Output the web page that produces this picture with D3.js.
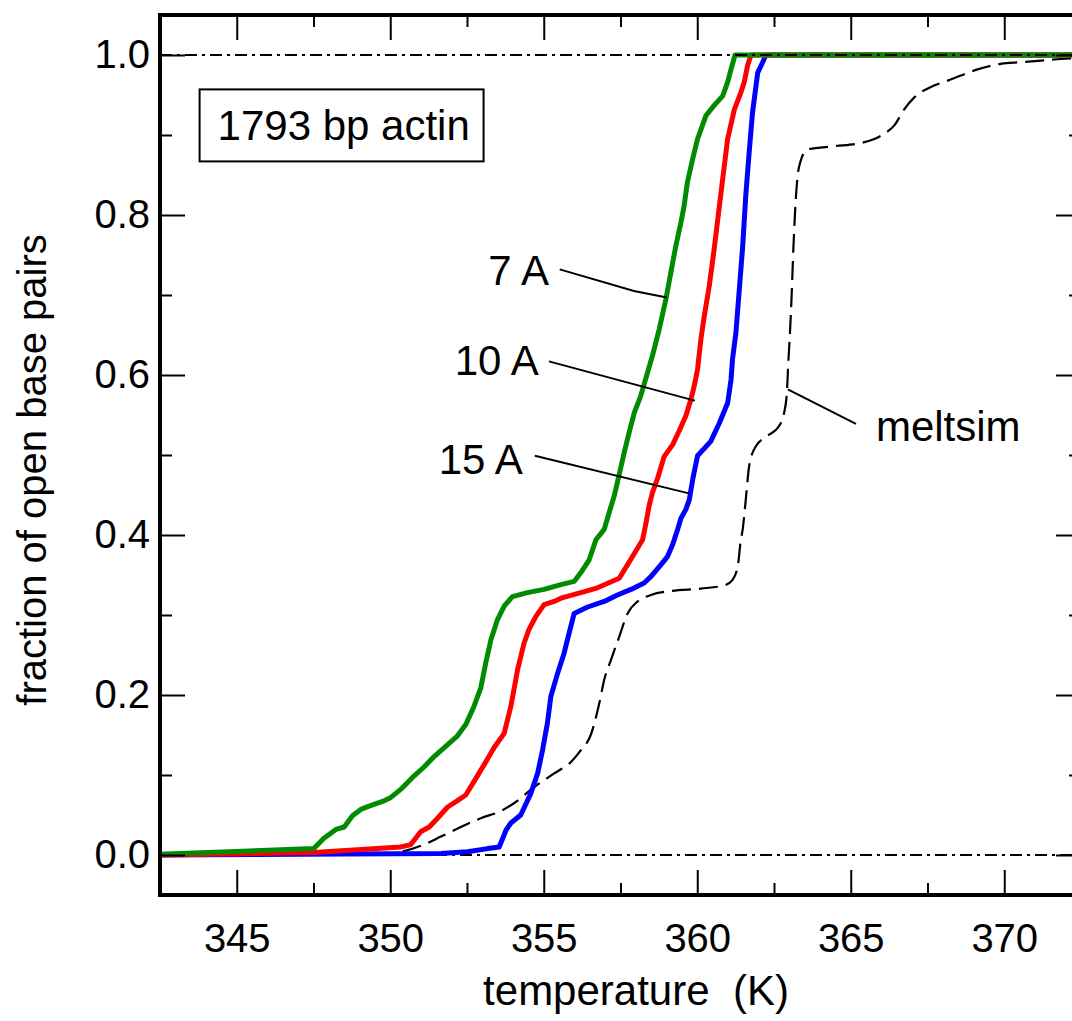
<!DOCTYPE html>
<html>
<head>
<meta charset="utf-8">
<script src="https://cdn.jsdelivr.net/npm/d3@7"></script>
<style>
  html, body { margin: 0; padding: 0; background: #ffffff; }
  svg { display: block; }
  text { font-family: "Liberation Sans", Arial, Helvetica, sans-serif; fill: #000; }
</style>
</head>
<body>
<svg id="chart" width="1072" height="1021"></svg>
<script>
// ---------------- data (temperature K, fraction of open base pairs) ----------------
const green7A = [
  [342.5,0.001],[347.51,0.008],[347.84,0.021],[348.23,0.032],[348.50,0.035],[348.77,0.049],
  [349.04,0.057],[349.31,0.061],[349.75,0.067],[350.02,0.072],[350.34,0.082],[350.78,0.099],
  [351.10,0.110],[351.43,0.123],[351.87,0.138],[352.19,0.149],[352.46,0.163],[352.73,0.186],
  [352.95,0.209],[353.11,0.240],[353.28,0.269],[353.49,0.294],[353.71,0.311],[353.98,0.323],
  [354.47,0.328],[355.01,0.332],[355.56,0.338],[355.99,0.342],[356.21,0.353],[356.48,0.369],
  [356.70,0.394],[356.97,0.407],[357.13,0.428],[357.29,0.448],[357.46,0.476],[357.62,0.503],
  [357.78,0.528],[357.95,0.553],[358.16,0.574],[358.38,0.603],[358.54,0.624],[358.76,0.657],
  [358.98,0.695],[359.14,0.728],[359.30,0.761],[359.47,0.791],[359.57,0.811],[359.68,0.841],
  [359.85,0.870],[360.01,0.895],[360.28,0.924],[360.55,0.937],[360.83,0.949],[360.99,0.966],
  [361.10,0.982],[361.23,1.000],[372.5,1.000]
];
const red10A = [
  [342.5,0.000],[347.51,0.003],[350.34,0.010],[350.67,0.013],[350.99,0.029],[351.27,0.035],
  [351.54,0.046],[351.87,0.060],[352.19,0.068],[352.46,0.075],[352.73,0.092],[353.06,0.113],
  [353.38,0.134],[353.71,0.152],[353.93,0.186],[354.15,0.232],[354.36,0.265],[354.52,0.282],
  [354.74,0.298],[355.01,0.313],[355.34,0.317],[355.56,0.321],[356.21,0.328],[356.75,0.334],
  [357.46,0.346],[357.73,0.363],[358.00,0.380],[358.22,0.394],[358.33,0.415],[358.43,0.436],
  [358.54,0.453],[358.71,0.471],[358.92,0.498],[359.20,0.513],[359.41,0.530],[359.63,0.549],
  [359.79,0.569],[359.90,0.586],[360.01,0.607],[360.12,0.645],[360.23,0.674],[360.39,0.711],
  [360.55,0.757],[360.72,0.811],[360.88,0.861],[360.99,0.895],[361.21,0.932],[361.42,0.953],
  [361.53,0.966],[361.64,0.987],[361.75,1.000],[372.5,1.000]
];
const blue15A = [
  [342.5,0.000],[351.65,0.002],[352.52,0.004],[353.17,0.008],[353.55,0.010],[353.77,0.031],
  [353.93,0.040],[354.25,0.050],[354.58,0.077],[354.80,0.102],[354.96,0.131],[355.12,0.165],
  [355.23,0.198],[355.45,0.227],[355.66,0.252],[355.77,0.269],[355.99,0.302],[356.43,0.310],
  [356.97,0.317],[357.40,0.325],[357.84,0.332],[358.27,0.340],[358.49,0.348],[358.82,0.363],
  [359.03,0.373],[359.20,0.388],[359.36,0.407],[359.47,0.421],[359.63,0.432],[359.74,0.444],
  [359.85,0.469],[360.01,0.499],[360.44,0.517],[360.72,0.540],[360.99,0.565],[361.10,0.594],
  [361.15,0.620],[361.26,0.653],[361.37,0.707],[361.48,0.761],[361.58,0.824],[361.69,0.878],
  [361.80,0.928],[361.97,0.978],[362.13,0.991],[362.24,1.000],[372.5,1.000]
];
const meltsim = [
  [342.5,0.000],[349.5,0.001],[350.34,0.004],[351.10,0.013],[351.65,0.023],[352.30,0.035],
  [352.95,0.046],[353.60,0.055],[354.04,0.065],[354.69,0.085],[355.34,0.102],[355.88,0.116],
  [356.21,0.131],[356.53,0.150],[356.80,0.188],[356.97,0.219],[357.19,0.244],[357.46,0.273],
  [357.73,0.302],[358.06,0.317],[358.49,0.325],[359.14,0.330],[360.12,0.333],[360.88,0.337],
  [361.15,0.344],[361.32,0.361],[361.42,0.394],[361.48,0.407],[361.58,0.444],[361.69,0.486],
  [361.91,0.511],[362.29,0.524],[362.66,0.536],[362.83,0.553],[362.92,0.578],[362.96,0.611],
  [363.02,0.653],[363.07,0.695],[363.13,0.757],[363.21,0.820],[363.32,0.861],[363.59,0.882],
  [364.46,0.886],[365.33,0.890],[365.77,0.895],[366.15,0.903],[366.42,0.912],[366.74,0.932],
  [367.07,0.947],[367.61,0.960],[368.16,0.968],[368.70,0.976],[369.13,0.982],[369.89,0.989],
  [370.55,0.991],[371.20,0.993],[371.85,0.995],[372.5,0.996]
];
const xMajorTicks = [345, 350, 355, 360, 365, 370];
const xMinorTicks = [342.5, 347.5, 352.5, 357.5, 362.5, 367.5, 372.5];
const yMajorTicks = [0.0, 0.2, 0.4, 0.6, 0.8, 1.0];
const yMinorTicks = [0.1, 0.3, 0.5, 0.7, 0.9];
const refLevels = [0, 1];
const boxLabel = "1793 bp actin";
const xTitle = "temperature  (K)";
const yTitle = "fraction of open base pairs";
// annotation labels with leader lines (data coordinates)
const annotations = [
  {text: "7 A",     t: 355.17, f: 0.712, anchor: "end",   leader: [[355.52,0.732],[357.94,0.705],[359.01,0.697]]},
  {text: "10 A",    t: 354.84, f: 0.600, anchor: "end",   leader: [[355.17,0.617],[359.92,0.568]]},
  {text: "15 A",    t: 354.32, f: 0.476, anchor: "end",   leader: [[354.71,0.499],[359.73,0.452]]},
  {text: "meltsim", t: 365.82, f: 0.517, anchor: "start", leader: [[362.95,0.582],[365.17,0.539]]}
];

// ---------------- layout ----------------
const svg = d3.select("#chart");
const L = 160, R = 1081, T = 15, B = 895;
const x = d3.scaleLinear().domain([342.5, 372.5]).range([L, R]);
const y = d3.scaleLinear().domain([-0.05, 1.05]).range([B, T]);
const FS = 40;   // tick labels
const FT = 42;   // titles / annotations

svg.append("defs").append("clipPath").attr("id", "plotclip")
  .append("rect").attr("x", L).attr("y", T).attr("width", R - L).attr("height", B - T);

const plot = svg.append("g").attr("clip-path", "url(#plotclip)");

// zero reference line (under curves)
plot.append("line")
  .attr("x1", L).attr("x2", R).attr("y1", y(refLevels[0])).attr("y2", y(refLevels[0]))
  .attr("stroke", "#000").attr("stroke-width", 2).attr("stroke-dasharray", "12,5,3,5");

const line = d3.line().x(d => x(d[0])).y(d => y(d[1]));

plot.append("path").datum(meltsim)
  .attr("d", d3.line().x(d => x(d[0])).y(d => y(d[1])).curve(d3.curveMonotoneX))
  .attr("fill", "none").attr("stroke", "#000").attr("stroke-width", 2.2)
  .attr("stroke-dasharray", "19,8");

[[blue15A, "#0000ff"], [red10A, "#ff0000"], [green7A, "#008b00"]].forEach(([d, c]) => {
  plot.append("path").datum(d).attr("d", line)
    .attr("fill", "none").attr("stroke", c).attr("stroke-width", 5)
    .attr("stroke-linejoin", "round");
});

// one reference line (over curves)
plot.append("line")
  .attr("x1", L).attr("x2", R).attr("y1", y(refLevels[1])).attr("y2", y(refLevels[1]))
  .attr("stroke", "#000").attr("stroke-width", 2).attr("stroke-dasharray", "12,5,3,5");

// ---------------- axes ----------------
function styleAxis(g) {
  g.select(".domain").remove();
  g.selectAll(".tick line").attr("stroke", "#000").attr("stroke-width", 2);
  g.selectAll(".tick text").attr("font-size", FS)
    .attr("font-family", '"Liberation Sans", Arial, Helvetica, sans-serif').attr("fill", "#000");
}
// bottom
svg.append("g").attr("transform", `translate(0,${B})`)
  .call(d3.axisBottom(x).tickValues(xMajorTicks).tickSize(-25).tickPadding(29).tickFormat(d3.format("d")))
  .call(styleAxis);
svg.append("g").attr("transform", `translate(0,${B})`)
  .call(d3.axisBottom(x).tickValues(xMinorTicks).tickSize(-12).tickFormat(""))
  .call(styleAxis);
// top
svg.append("g").attr("transform", `translate(0,${T})`)
  .call(d3.axisTop(x).tickValues(xMajorTicks).tickSize(-25).tickFormat(""))
  .call(styleAxis);
svg.append("g").attr("transform", `translate(0,${T})`)
  .call(d3.axisTop(x).tickValues(xMinorTicks).tickSize(-12).tickFormat(""))
  .call(styleAxis);
// left
svg.append("g").attr("transform", `translate(${L},0)`)
  .call(d3.axisLeft(y).tickValues(yMajorTicks).tickSize(-25).tickPadding(10).tickFormat(d3.format(".1f")))
  .call(styleAxis);
svg.append("g").attr("transform", `translate(${L},0)`)
  .call(d3.axisLeft(y).tickValues(yMinorTicks).tickSize(-12).tickFormat(""))
  .call(styleAxis);
// right
svg.append("g").attr("transform", `translate(${R},0)`)
  .call(d3.axisRight(y).tickValues(yMajorTicks).tickSize(-25).tickFormat(""))
  .call(styleAxis);
svg.append("g").attr("transform", `translate(${R},0)`)
  .call(d3.axisRight(y).tickValues(yMinorTicks).tickSize(-12).tickFormat(""))
  .call(styleAxis);

// frame
svg.append("rect").attr("x", L).attr("y", T).attr("width", R - L).attr("height", B - T)
  .attr("fill", "none").attr("stroke", "#000").attr("stroke-width", 4);

// titles
svg.append("text").attr("x", 636).attr("y", 1005).attr("text-anchor", "middle")
  .attr("font-size", FT).style("white-space", "pre").text(xTitle);
svg.append("text").attr("transform", "translate(46,470) rotate(-90)").attr("text-anchor", "middle")
  .attr("font-size", 40).text(yTitle);

// label box
svg.append("rect")
  .attr("x", x(343.79)).attr("y", y(0.957))
  .attr("width", x(353.04) - x(343.79)).attr("height", y(0.867) - y(0.957))
  .attr("fill", "#fff").attr("stroke", "#000").attr("stroke-width", 2);
svg.append("text").attr("x", x(343.79) + 18).attr("y", y(0.9125) + 15)
  .attr("font-size", FT).text(boxLabel);

// annotations
annotations.forEach(a => {
  svg.append("path").datum(a.leader).attr("d", line)
    .attr("fill", "none").attr("stroke", "#000").attr("stroke-width", 2);
  svg.append("text").attr("x", x(a.t)).attr("y", y(a.f))
    .attr("text-anchor", a.anchor).attr("font-size", FT).text(a.text);
});
</script>
</body>
</html>
